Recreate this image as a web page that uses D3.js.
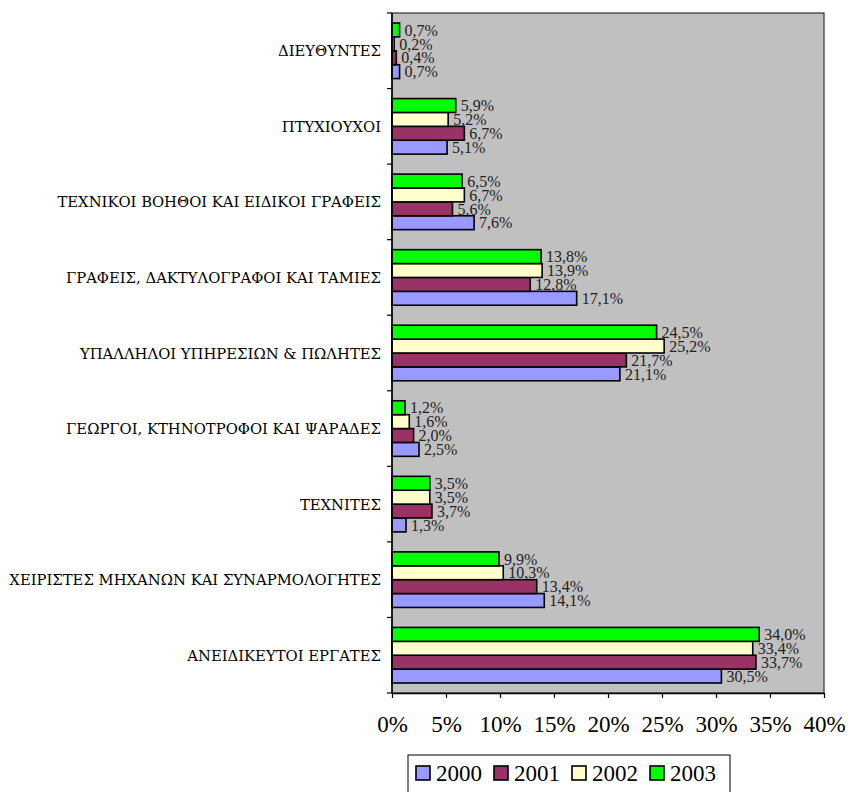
<!DOCTYPE html>
<html><head><meta charset="utf-8">
<script src="https://cdn.jsdelivr.net/npm/d3@7"></script>
<style>body{margin:0;background:#fff}svg{display:block}</style>
</head><body><svg id="c" width="848" height="792"></svg>
<script>
const categories = [
  "ΔΙΕΥΘΥΝΤΕΣ",
  "ΠΤΥΧΙΟΥΧΟΙ",
  "ΤΕΧΝΙΚΟΙ ΒΟΗΘΟΙ ΚΑΙ ΕΙΔΙΚΟΙ ΓΡΑΦΕΙΣ",
  "ΓΡΑΦΕΙΣ, ΔΑΚΤΥΛΟΓΡΑΦΟΙ ΚΑΙ ΤΑΜΙΕΣ",
  "ΥΠΑΛΛΗΛΟΙ ΥΠΗΡΕΣΙΩΝ & ΠΩΛΗΤΕΣ",
  "ΓΕΩΡΓΟΙ, ΚΤΗΝΟΤΡΟΦΟΙ ΚΑΙ ΨΑΡΑΔΕΣ",
  "ΤΕΧΝΙΤΕΣ",
  "ΧΕΙΡΙΣΤΕΣ ΜΗΧΑΝΩΝ ΚΑΙ ΣΥΝΑΡΜΟΛΟΓΗΤΕΣ",
  "ΑΝΕΙΔΙΚΕΥΤΟΙ ΕΡΓΑΤΕΣ"
];
const years = ["2000", "2001", "2002", "2003"];
const values2000 = [0.7, 5.1, 7.6, 17.1, 21.1, 2.5, 1.3, 14.1, 30.5];
const values2001 = [0.4, 6.7, 5.6, 12.8, 21.7, 2.0, 3.7, 13.4, 33.7];
const values2002 = [0.2, 5.2, 6.7, 13.9, 25.2, 1.6, 3.5, 10.3, 33.4];
const values2003 = [0.7, 5.9, 6.5, 13.8, 24.5, 1.2, 3.5, 9.9, 34.0];
const xTicks = [0, 5, 10, 15, 20, 25, 30, 35, 40];
const colors = ["#9999FF", "#993366", "#FFFFCC", "#00FF00"];

const FONT = "'Liberation Serif', 'DejaVu Serif', serif";
const GREEK = "'DejaVu Serif', serif";
const seriesVals = [values2000, values2001, values2002, values2003];
const svg = d3.select("#c").attr("font-family", FONT);
const L = 392, R = 824, T = 13, B = 693;

svg.append("rect").attr("x", L).attr("y", T).attr("width", R - L).attr("height", B - T)
  .attr("fill", "#C0C0C0").attr("stroke", "#333").attr("stroke-width", 1.2);

const x = d3.scaleLinear().domain([0, 40]).range([L, R]);
const y = d3.scaleBand().domain(categories).range([T, B]).paddingInner(0).paddingOuter(0);
const inner = d3.scaleBand().domain(["2003", "2002", "2001", "2000"]).range([10, y.bandwidth() - 10]);

const data = [];
categories.forEach((c, i) => years.forEach((yr, j) => data.push({c, yr, v: seriesVals[j][i], col: colors[j]})));

svg.append("g").selectAll("rect").data(data).join("rect")
  .attr("x", x(0)).attr("y", d => y(d.c) + inner(d.yr))
  .attr("width", d => x(d.v) - x(0)).attr("height", inner.bandwidth())
  .attr("fill", d => d.col).attr("stroke", "#000").attr("stroke-width", 1.6);

svg.append("g").selectAll("text").data(data).join("text")
  .attr("font-family", FONT)
  .attr("x", d => x(d.v) + 5).attr("y", d => y(d.c) + inner(d.yr) + inner.bandwidth() / 2)
  .attr("dy", "0.36em").attr("font-size", 16).attr("fill", "#222")
  .text(d => d.v.toFixed(1).replace(".", ",") + "%");

const yAxis = svg.append("g").attr("transform", `translate(${L},0)`);
yAxis.append("line").attr("x1", 0).attr("x2", 0).attr("y1", T).attr("y2", B).attr("stroke", "#000").attr("stroke-width", 1.5);
yAxis.selectAll("line.t").data(d3.range(categories.length + 1)).join("line").attr("class", "t")
  .attr("x1", -5).attr("x2", 0).attr("y1", i => T + i * y.step()).attr("y2", i => T + i * y.step())
  .attr("stroke", "#000").attr("stroke-width", 1.2);
const catText = svg.append("g").selectAll("text").data(categories).join("text")
  .attr("font-family", GREEK)
  .attr("x", 381).attr("y", d => y(d) + y.bandwidth() / 2).attr("dy", "0.36em")
  .attr("text-anchor", "end").attr("font-size", 15.5).attr("fill", "#000").text(d => d);
// condense horizontally so the first label spans about 103px like the original
const w0 = catText.node().getComputedTextLength();
const factor = 103 / w0;
catText.each(function () {
  const w = this.getComputedTextLength();
  d3.select(this).attr("textLength", w * factor).attr("lengthAdjust", "spacingAndGlyphs");
});

const xAxis = d3.axisBottom(x).tickValues(xTicks).tickFormat(d => d + "%").tickSize(5).tickSizeOuter(0);
const gx = svg.append("g").attr("transform", `translate(0,${B})`).call(xAxis);
gx.attr("font-family", FONT);
gx.select(".domain").attr("stroke", "#000").attr("stroke-width", 1.5);
gx.selectAll(".tick line").attr("stroke", "#000").attr("stroke-width", 1.2);
gx.selectAll(".tick text").attr("font-family", FONT).attr("font-size", 23)
  .attr("fill", "#000").attr("y", 23).attr("dy", "0.71em");

const lg = svg.append("g");
lg.append("rect").attr("x", 408).attr("y", 755).attr("width", 322).attr("height", 40)
  .attr("fill", "#fff").attr("stroke", "#000").attr("stroke-width", 1);
years.forEach((yr, j) => {
  const gx0 = 416 + j * 78;
  lg.append("rect").attr("x", gx0).attr("y", 766).attr("width", 14).attr("height", 14)
    .attr("fill", colors[j]).attr("stroke", "#000").attr("stroke-width", 1.6);
  lg.append("text").attr("font-family", FONT).attr("x", gx0 + 20).attr("y", 781)
    .attr("font-size", 23).attr("fill", "#000").text(yr);
});
</script></body></html>
